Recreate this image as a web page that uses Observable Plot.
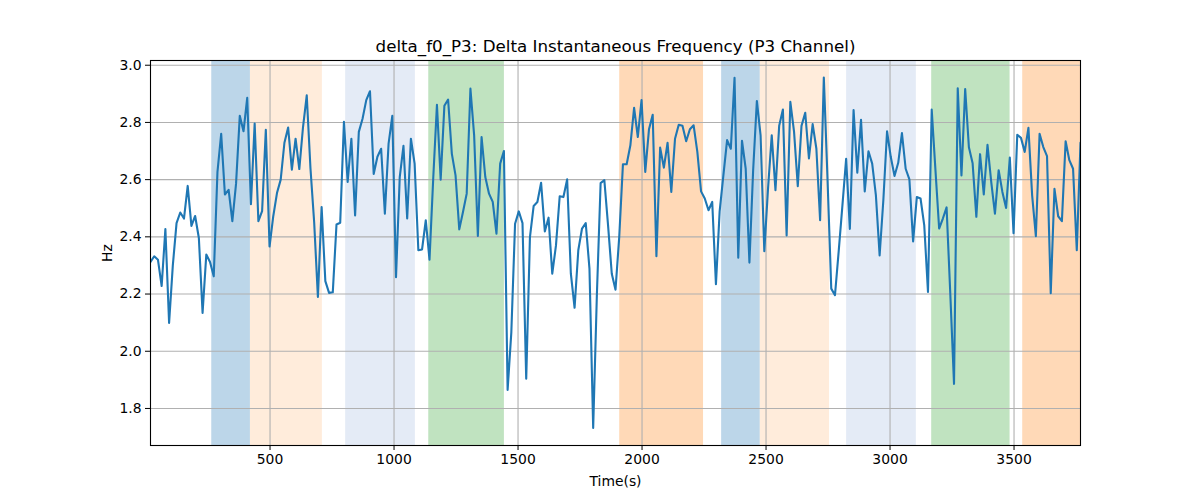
<!DOCTYPE html>
<html>
<head>
<meta charset="utf-8">
<script src="https://cdn.jsdelivr.net/npm/d3@7"></script>
<script src="https://cdn.jsdelivr.net/npm/@observablehq/plot@0.6"></script>
<style>
  html, body { margin: 0; padding: 0; background: #fff; }
  #chart { width: 1200px; height: 500px; }
</style>
</head>
<body>
<div id="chart"></div>
<script>
// Sampling grid of the series (seconds)
const startTime = 18;
const sampleStep = 15;

// Delta instantaneous frequency values (Hz)
const values = [
  2.312, 2.332, 2.32, 2.228, 2.427, 2.099, 2.30, 2.448, 2.485, 2.464,
  2.578, 2.438, 2.473, 2.396, 2.134, 2.338, 2.312, 2.262, 2.627, 2.760,
  2.548, 2.564, 2.455, 2.586, 2.823, 2.769, 2.886, 2.514, 2.796, 2.455,
  2.490, 2.774, 2.366, 2.472, 2.553, 2.60, 2.729, 2.782, 2.635, 2.743,
  2.637, 2.784, 2.895, 2.64, 2.45, 2.19, 2.504, 2.245, 2.204, 2.206,
  2.443, 2.449, 2.802, 2.592, 2.743, 2.475, 2.767, 2.813, 2.878, 2.909,
  2.620, 2.680, 2.708,
  2.481, 2.726, 2.823, 2.259, 2.609, 2.718, 2.464,
  2.743, 2.656, 2.353, 2.356, 2.458, 2.320, 2.603, 2.862, 2.600, 2.858,
  2.880, 2.691, 2.615, 2.426, 2.487, 2.551, 2.918, 2.755, 2.403, 2.749,
  2.609, 2.551, 2.522, 2.411, 2.656, 2.700, 1.865, 2.067, 2.446, 2.489,
  2.448, 1.904, 2.399, 2.508, 2.522, 2.589, 2.419, 2.467, 2.271, 2.370,
  2.542, 2.539, 2.601, 2.271, 2.152, 2.353, 2.429, 2.448, 2.289, 1.732,
  2.20, 2.588, 2.598, 2.440, 2.271, 2.215, 2.399, 2.654, 2.654, 2.720,
  2.851, 2.749, 2.878, 2.627, 2.776, 2.827, 2.332, 2.712, 2.642, 2.729,
  2.557, 2.743, 2.792, 2.788, 2.734, 2.776, 2.790, 2.697, 2.559, 2.534,
  2.493, 2.522, 2.234, 2.490, 2.615, 2.738, 2.708, 2.956, 2.327, 2.736,
  2.638, 2.310, 2.633, 2.875, 2.755, 2.350, 2.568, 2.755, 2.563, 2.788,
  2.845, 2.405, 2.872, 2.767, 2.577, 2.788, 2.834, 2.674, 2.794, 2.708,
  2.458, 2.957, 2.60, 2.219, 2.196, 2.35, 2.51, 2.673, 2.428, 2.843,
  2.624, 2.809, 2.559, 2.699, 2.656, 2.545, 2.335, 2.528, 2.769, 2.679,
  2.613, 2.659, 2.763, 2.638, 2.601, 2.384, 2.539, 2.534, 2.440, 2.207,
  2.845, 2.635, 2.429, 2.464, 2.503, 2.20, 1.886, 2.919, 2.615, 2.917,
  2.713, 2.657, 2.47, 2.689, 2.548, 2.722, 2.592, 2.481, 2.633, 2.557,
  2.501, 2.677, 2.413, 2.757, 2.746, 2.697, 2.781, 2.545, 2.402, 2.760,
  2.714, 2.682, 2.203, 2.568, 2.472, 2.455, 2.734, 2.668, 2.638, 2.353,
  2.729
];

// Shaded intervals (seconds) and their colours
const spanStarts = [265, 421, 805, 1140, 1910, 2321, 2477, 2825, 3168, 3535];
const spanEnds   = [421, 711, 1086, 1445, 2248, 2477, 2756, 3106, 3484, 3800];
const spanColors = ["#bcd6e9", "#ffecdb", "#e4ebf6", "#c0e3c0", "#ffd9b7",
                    "#bcd6e9", "#ffecdb", "#e4ebf6", "#c0e3c0", "#ffd9b7"];

// Tick labels
const xTicks = [500, 1000, 1500, 2000, 2500, 3000, 3500];
const yTicks = [1.8, 2.0, 2.2, 2.4, 2.6, 2.8, 3.0];

const titleText = "delta_f0_P3: Delta Instantaneous Frequency (P3 Channel)";

const series = values.map((v, i) => ({t: startTime + i * sampleStep, v}));
const spans = spanStarts.map((s, i) => ({start: s, end: spanEnds[i], color: spanColors[i]}));

const chart = Plot.plot({
  width: 1200,
  height: 500,
  marginLeft: 150,
  marginRight: 120,
  marginTop: 60,
  marginBottom: 55,
  style: {fontFamily: "'DejaVu Sans', sans-serif", fontSize: "13.9px", color: "#000", background: "#fff"},
  x: {domain: [18, 3768]},
  y: {domain: [1.6705, 3.0165]},
  color: {type: "identity"},
  marks: [
    Plot.rect(spans, {x1: "start", x2: "end", fill: "color", clip: true}),
    Plot.gridX(xTicks, {stroke: "#b0b0b0", strokeOpacity: 1, strokeWidth: 1.1}),
    Plot.gridY(yTicks, {stroke: "#b0b0b0", strokeOpacity: 1, strokeWidth: 1.1}),
    Plot.line(series, {x: "t", y: "v", stroke: "#1f77b4", strokeWidth: 2.1, clip: true}),
    Plot.frame({stroke: "#000", strokeWidth: 1.1}),
    Plot.axisX(xTicks, {tickSize: 5, tickPadding: 4, tickFormat: d3.format("d"), fontSize: 13.9,
      label: "Time(s)", labelAnchor: "center", labelArrow: "none", labelOffset: 40}),
    Plot.axisY(yTicks, {tickSize: 5, tickPadding: 4, tickFormat: d3.format(".1f"), fontSize: 13.9,
      label: "Hz", labelAnchor: "center", labelArrow: "none", labelOffset: 48}),
    Plot.text([titleText], {frameAnchor: "top", lineAnchor: "middle", dy: -14, fontSize: 16.7, fill: "#000"})
  ]
});
document.getElementById("chart").appendChild(chart);
</script>
</body>
</html>
